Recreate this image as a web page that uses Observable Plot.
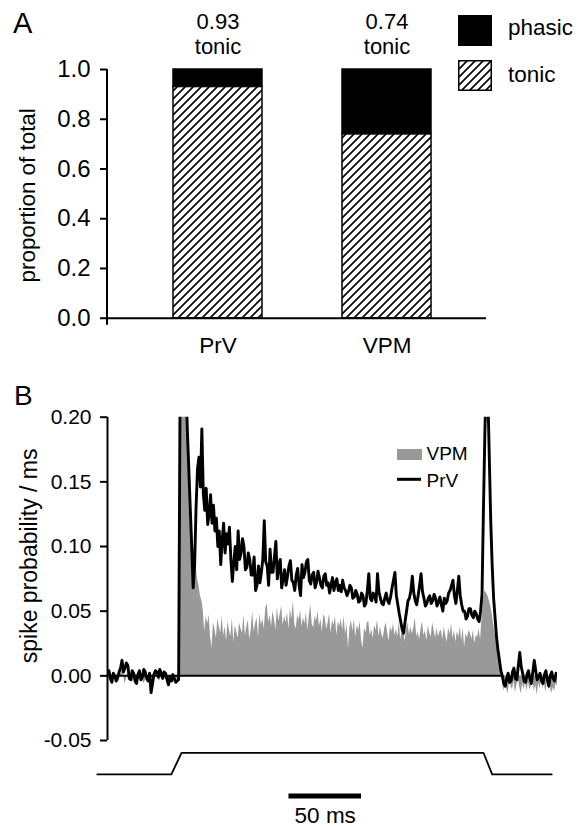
<!DOCTYPE html>
<html><head><meta charset="utf-8">
<script src="https://cdn.jsdelivr.net/npm/d3@7"></script>
<script src="https://cdn.jsdelivr.net/npm/@observablehq/plot@0.6"></script>
<style>
body{margin:0;background:#fff;}
#chart{width:582px;height:828px;position:relative;}
#chart svg{display:block;}
</style></head><body><div id="chart"></div>
<script>
// ---------- Panel A data ----------
const regions = ["PrV", "VPM"];
const tonicProp = [0.93, 0.74];
const phasicProp = [0.07, 0.26];
const propTicks = [0, 0.2, 0.4, 0.6, 0.8, 1.0];

// ---------- Panel B data (1 ms bins starting at -50 ms) ----------
const binStart = -50;   // ms
const binWidth = 1;     // ms
const prvRate = [
  0.001,0.004,-0.002,-0.005,0.002,0.000,-0.004,-0.001,0.003,0.006,
  0.012,0.003,0.006,0.010,0.008,-0.002,-0.003,0.004,0.002,-0.004,
  -0.006,0.001,0.004,-0.003,-0.001,0.005,0.003,-0.002,-0.004,0.002,
  -0.013,-0.006,0.001,0.004,0.003,-0.001,0.005,0.002,-0.002,0.003,
  0.002,-0.003,-0.007,-0.001,-0.004,0.001,-0.002,-0.005,-0.004,-0.003,
  0.22,0.30,0.32,0.28,0.23,0.19,0.16,0.13,0.10,0.068,
  0.085,0.13,0.16,0.169,0.146,0.191,0.141,0.128,0.145,0.117,
  0.125,0.14,0.118,0.132,0.112,0.122,0.10,0.112,0.086,0.105,
  0.118,0.095,0.11,0.102,0.115,0.09,0.073,0.088,0.10,0.082,
  0.112,0.09,0.095,0.106,0.10,0.082,0.084,0.095,0.09,0.078,
  0.078,0.092,0.066,0.07,0.085,0.072,0.08,0.09,0.12,0.088,
  0.085,0.07,0.098,0.08,0.08,0.092,0.104,0.075,0.085,0.09,
  0.068,0.075,0.082,0.07,0.077,0.085,0.089,0.074,0.072,0.066,
  0.078,0.083,0.07,0.062,0.086,0.076,0.08,0.088,0.09,0.074,
  0.071,0.078,0.08,0.068,0.072,0.081,0.076,0.07,0.068,0.077,
  0.079,0.07,0.072,0.064,0.07,0.076,0.066,0.072,0.075,0.066,
  0.07,0.065,0.074,0.068,0.066,0.062,0.065,0.07,0.068,0.06,
  0.061,0.066,0.063,0.057,0.058,0.064,0.062,0.054,0.056,0.066,
  0.079,0.06,0.058,0.064,0.062,0.057,0.079,0.065,0.06,0.056,
  0.055,0.06,0.064,0.058,0.056,0.061,0.068,0.074,0.08,0.062,
  0.055,0.048,0.042,0.036,0.033,0.042,0.05,0.058,0.06,0.066,
  0.077,0.064,0.058,0.055,0.062,0.07,0.079,0.065,0.06,0.054,
  0.056,0.06,0.062,0.056,0.058,0.063,0.06,0.054,0.057,0.061,
  0.055,0.05,0.06,0.056,0.058,0.064,0.066,0.07,0.074,0.062,
  0.056,0.066,0.077,0.062,0.055,0.05,0.05,0.044,0.046,0.052,
  0.052,0.047,0.045,0.05,0.048,0.044,0.042,0.05,0.063,0.13,
  0.19,0.23,0.22,0.17,0.12,0.085,0.06,0.045,0.03,0.02,
  0.012,0.004,0.0,-0.006,-0.008,-0.002,0.002,-0.005,-0.004,0.003,
  0.006,-0.002,-0.003,0.008,0.018,0.007,0.002,-0.004,-0.005,0.001,
  0.004,-0.002,-0.006,0.003,0.012,0.004,-0.003,-0.001,0.002,-0.004,
  -0.006,0.001,0.004,-0.003,-0.008,0.000,0.003,-0.002,-0.004,0.002,
  0.001
];
const vpmRate = [
  -0.002,0.001,-0.003,-0.004,0.000,0.002,-0.003,-0.001,-0.005,0.001,
  0.004,0.001,-0.006,-0.003,0.002,-0.001,-0.002,-0.005,-0.003,0.000,
  0.001,-0.004,-0.002,0.002,-0.003,-0.006,-0.004,0.001,-0.001,-0.003,
  -0.008,-0.005,-0.002,0.000,0.001,-0.003,-0.004,0.000,-0.002,-0.001,
  -0.002,-0.004,-0.005,-0.002,-0.003,-0.006,-0.004,-0.005,-0.003,-0.004,
  0.12,0.25,0.27,0.26,0.22,0.19,0.16,0.14,0.12,0.105,
  0.095,0.085,0.075,0.07,0.062,0.058,0.05,0.034,0.046,0.04,
  0.047,0.03,0.022,0.041,0.036,0.029,0.044,0.038,0.033,0.046,
  0.031,0.038,0.027,0.042,0.035,0.03,0.045,0.026,0.039,0.034,
  0.029,0.041,0.036,0.033,0.047,0.031,0.038,0.043,0.028,0.036,
  0.05,0.034,0.04,0.045,0.03,0.048,0.039,0.044,0.036,0.052,
  0.056,0.041,0.047,0.038,0.05,0.044,0.035,0.053,0.042,0.048,
  0.054,0.039,0.046,0.041,0.049,0.036,0.052,0.044,0.058,0.04,
  0.036,0.047,0.043,0.051,0.038,0.045,0.04,0.049,0.035,0.046,
  0.055,0.04,0.037,0.046,0.042,0.05,0.038,0.044,0.034,0.047,
  0.045,0.036,0.041,0.048,0.033,0.043,0.039,0.046,0.031,0.042,
  0.038,0.044,0.035,0.046,0.032,0.04,0.021,0.037,0.043,0.034,
  0.044,0.03,0.039,0.035,0.042,0.028,0.021,0.037,0.033,0.041,
  0.042,0.031,0.036,0.029,0.039,0.035,0.043,0.03,0.038,0.032,
  0.029,0.037,0.041,0.033,0.027,0.038,0.034,0.04,0.031,0.036,
  0.03,0.042,0.028,0.035,0.039,0.026,0.036,0.041,0.032,0.038,
  0.032,0.037,0.045,0.03,0.034,0.028,0.036,0.042,0.031,0.035,
  0.027,0.039,0.033,0.03,0.041,0.035,0.029,0.037,0.03,0.034,
  0.035,0.028,0.038,0.031,0.026,0.037,0.032,0.04,0.029,0.035,
  0.026,0.034,0.03,0.038,0.027,0.037,0.022,0.033,0.029,0.035,
  0.033,0.028,0.035,0.025,0.031,0.03,0.036,0.028,0.045,0.058,
  0.066,0.064,0.062,0.058,0.054,0.048,0.04,0.033,0.026,0.018,
  0.011,0.002,-0.004,-0.012,-0.006,-0.01,-0.014,-0.004,-0.008,-0.011,
  -0.004,-0.013,-0.007,-0.003,-0.009,-0.014,-0.006,-0.011,-0.005,-0.012,
  -0.005,-0.011,-0.008,-0.004,-0.012,-0.007,-0.015,-0.006,-0.01,-0.003,
  -0.01,-0.006,-0.013,-0.004,-0.011,-0.007,-0.014,-0.009,-0.012,-0.006,
  -0.008
];
const rateTicks = [-0.05, 0, 0.05, 0.10, 0.15, 0.20];
const stimTimes = [-57, -6, 1, 209, 215, 256];
const stimLevels = [-0.0762, -0.0762, -0.0595, -0.0595, -0.0762, -0.0762];
const baselineSpan = [-50, 222];
const scaleBarMs = [75, 125];
const scaleBarLevel = -0.093;
const scaleLabelLevel = -0.1085;

// ---------- helpers ----------
const font = "'Liberation Sans', Arial, Helvetica, sans-serif";
const baseStyle = {fontFamily: font, background: "white", color: "black", overflow: "visible"};

function hatchDefs() {
  const s = 8;
  const defs = d3.create("svg:defs");
  const p = defs.append("pattern").attr("id", "hatch")
    .attr("patternUnits", "userSpaceOnUse").attr("width", s).attr("height", s);
  p.append("rect").attr("width", s).attr("height", s).attr("fill", "white");
  p.append("path")
    .attr("d", `M0,${s}L${s},0M${-s/4},${s/4}L${s/4},${-s/4}M${3*s/4},${5*s/4}L${5*s/4},${3*s/4}`)
    .attr("stroke", "black").attr("stroke-width", 1.6);
  return defs.node();
}
function axisLineLeft(index, scales, values, dims) {
  return d3.create("svg:line")
    .attr("x1", dims.marginLeft).attr("x2", dims.marginLeft)
    .attr("y1", dims.marginTop).attr("y2", dims.height - dims.marginBottom)
    .attr("stroke", "black").attr("stroke-width", 2).node();
}
function legendA() {
  const g = d3.create("svg:g").attr("font-family", font).attr("fill", "black").attr("text-anchor", "start");
  g.append("rect").attr("x", 458).attr("y", 15).attr("width", 34).attr("height", 31).attr("fill", "black");
  g.append("rect").attr("x", 458.75).attr("y", 60.75).attr("width", 32.5).attr("height", 29.5)
    .attr("fill", "url(#hatch)").attr("stroke", "black").attr("stroke-width", 1.5);
  g.append("text").attr("x", 508).attr("y", 35).attr("font-size", 22.5).text("phasic");
  g.append("text").attr("x", 508).attr("y", 82).attr("font-size", 22.5).text("tonic");
  g.append("text").attr("x", 13).attr("y", 33).attr("font-size", 29).text("A");
  return g.node();
}
function legendB() {
  const g = d3.create("svg:g").attr("font-family", font).attr("fill", "black").attr("text-anchor", "start");
  g.append("rect").attr("x", 397).attr("y", 79).attr("width", 25).attr("height", 11).attr("fill", "#999");
  g.append("line").attr("x1", 397).attr("x2", 421).attr("y1", 109.3).attr("y2", 109.3)
    .attr("stroke", "black").attr("stroke-width", 3);
  g.append("text").attr("x", 426.5).attr("y", 90).attr("font-size", 19).text("VPM");
  g.append("text").attr("x", 426.5).attr("y", 116.5).attr("font-size", 19).text("PrV");
  g.append("text").attr("x", 14).attr("y", 35).attr("font-size", 28).text("B");
  return g.node();
}

// ---------- Panel A ----------
const barsA = regions.map((r, i) => ({region: r, tonic: tonicProp[i], phasic: phasicProp[i]}));
const plotA = Plot.plot({
  width: 582, height: 370,
  marginLeft: 107, marginRight: 96, marginTop: 69, marginBottom: 45.3,
  style: baseStyle,
  x: {type: "band", domain: regions, paddingInner: 0.472, paddingOuter: 0.354, align: 0.55},
  y: {domain: [-0.028, 1]},
  marks: [
    hatchDefs,
    Plot.barY(barsA, {x: "region", y1: 0, y2: "tonic", fill: "url(#hatch)", stroke: "black", strokeWidth: 1.5}),
    Plot.barY(barsA, {x: "region", y1: "tonic", y2: d => d.tonic + d.phasic, fill: "black", stroke: "black", strokeWidth: 1.5}),
    Plot.ruleY([0], {stroke: "black", strokeWidth: 2}),
    axisLineLeft,
    Plot.axisY({ticks: propTicks, tickFormat: d => d.toFixed(1), tickSize: 7, tickPadding: 10, fontSize: 24, strokeWidth: 2, label: null}),
    Plot.axisX({tickSize: 0, tickPadding: 12, fontSize: 22.5, label: null}),
    Plot.text(barsA, {x: "region", y: 1, text: d => d.tonic.toFixed(2), dy: -48, fontSize: 22, lineAnchor: "middle"}),
    Plot.text(barsA, {x: "region", y: 1, text: () => "tonic", dy: -23, fontSize: 22, lineAnchor: "middle"}),
    Plot.text(["proportion of total"], {text: d => d, frameAnchor: "left", textAnchor: "middle", rotate: -90, dx: -79.5, dy: -2, fontSize: 22.4}),
    legendA
  ]
});

// ---------- Panel B ----------
const prvData = prvRate.map((v, i) => ({t: binStart + i * binWidth, v}));
const vpmData = vpmRate.map((v, i) => ({t: binStart + i * binWidth, v}));
const stimData = stimTimes.map((t, i) => ({t, v: stimLevels[i]}));
const plotB = Plot.plot({
  width: 582, height: 458,
  marginLeft: 107, marginRight: 25, marginTop: 46.7, marginBottom: 88,
  style: baseStyle,
  x: {domain: [-50, 260], axis: null},
  y: {domain: [-0.05, 0.2]},
  marks: [
    Plot.areaY(vpmData, {x: "t", y: "v", fill: "#999", clip: true}),
    Plot.ruleY([0], {x1: baselineSpan[0], x2: baselineSpan[1], stroke: "black", strokeWidth: 2}),
    Plot.line(prvData, {x: "t", y: "v", stroke: "black", strokeWidth: 2.9, clip: true}),
    Plot.ruleX([-50], {y1: -0.05, y2: 0.2, stroke: "black", strokeWidth: 2}),
    Plot.axisY({ticks: rateTicks, tickFormat: d => d.toFixed(2), tickSize: 7, tickPadding: 9, fontSize: 21, strokeWidth: 2, label: null}),
    Plot.line(stimData, {x: "t", y: "v", stroke: "black", strokeWidth: 1.8}),
    Plot.ruleY([scaleBarLevel], {x1: scaleBarMs[0], x2: scaleBarMs[1], stroke: "black", strokeWidth: 5}),
    Plot.text([`${scaleBarMs[1] - scaleBarMs[0]} ms`], {text: d => d, x: (scaleBarMs[0] + scaleBarMs[1]) / 2, y: scaleLabelLevel, fontSize: 22.5, lineAnchor: "middle"}),
    Plot.text(["spike probability / ms"], {text: d => d, frameAnchor: "left", textAnchor: "middle", rotate: -90, dx: -78, dy: -23, fontSize: 23}),
    legendB
  ]
});

const chart = document.getElementById("chart");
chart.append(plotA, plotB);
</script></body></html>
